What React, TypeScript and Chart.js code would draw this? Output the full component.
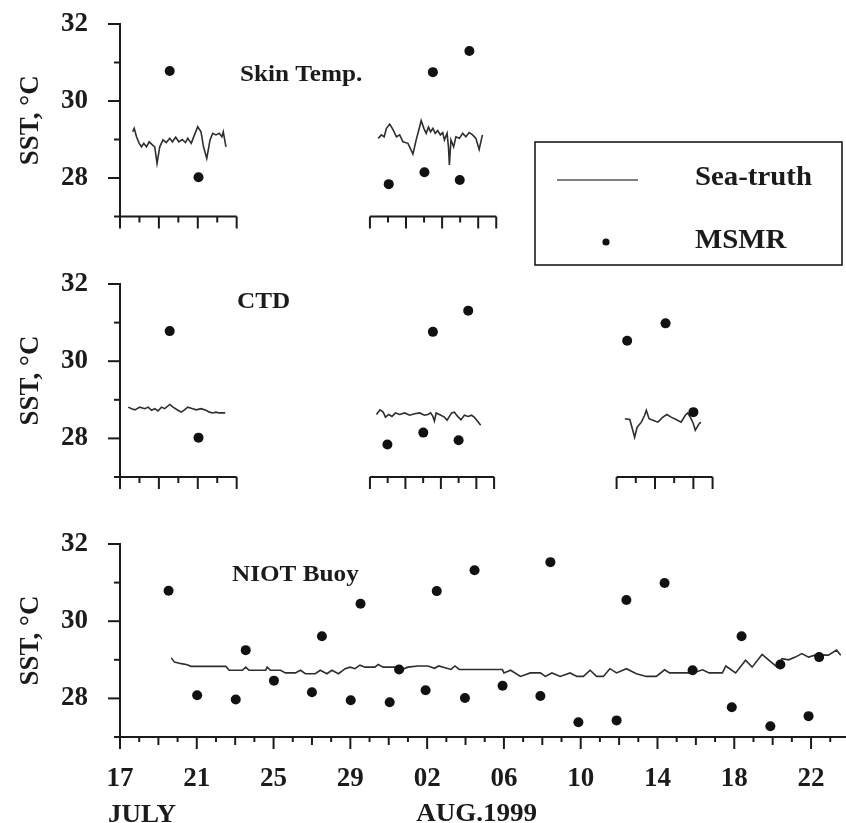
import React, { useEffect, useRef } from 'react';
import { Chart, registerables } from 'chart.js';

Chart.register(...registerables);

const FONT = "'Liberation Serif', 'Times New Roman', serif";
const INK = '#1b1b1b';
const LINE = '#2e2e2e';

// ---- axis text -------------------------------------------------------------
// x values are days counted from 17 July 1999
const dateTickDays = [0, 4, 8, 12, 16, 20, 24, 28, 32, 36];
const dateTickLabels = ['17', '21', '25', '29', '02', '06', '10', '14', '18', '22'];
const monthLabels = ['JULY', 'AUG.1999'];
const sstTickValues = [28, 30, 32];
const sstTickLabels = ['28', '30', '32'];
const sstAxisTitle = 'SST, °C';
const panelTitles = ['Skin Temp.', 'CTD', 'NIOT Buoy'];
const legendLabels = ['Sea-truth', 'MSMR'];

// ---- Skin temperature panel ---------------------------------------------------
const skinDaysA = [0.66, 0.74, 0.86, 1.0, 1.12, 1.24, 1.38, 1.52, 1.69, 1.81, 1.93, 2.07, 2.24, 2.41, 2.59, 2.73, 2.9, 3.07, 3.24, 3.41, 3.53, 3.71, 3.88, 4.05, 4.22, 4.35, 4.52, 4.69, 4.83, 5.0, 5.17, 5.31, 5.38, 5.52];
const skinSstA = [29.2, 29.29, 29.07, 28.9, 28.81, 28.9, 28.81, 28.94, 28.86, 28.81, 28.38, 28.81, 28.99, 28.92, 29.03, 28.94, 29.06, 28.94, 29.0, 28.92, 29.03, 28.9, 29.12, 29.33, 29.2, 28.81, 28.51, 28.99, 29.16, 29.12, 29.16, 29.07, 29.2, 28.81];
const skinDaysB = [13.45, 13.62, 13.76, 13.88, 14.05, 14.23, 14.4, 14.57, 14.74, 15.0, 15.26, 15.43, 15.61, 15.69, 15.83, 15.95, 16.07, 16.18, 16.3, 16.42, 16.55, 16.69, 16.81, 16.9, 17.04, 17.11, 17.16, 17.24, 17.38, 17.5, 17.68, 17.85, 18.02, 18.19, 18.37, 18.54, 18.71, 18.88];
const skinSstB = [29.03, 29.12, 29.07, 29.29, 29.4, 29.25, 29.07, 29.12, 28.94, 28.9, 28.62, 28.99, 29.33, 29.49, 29.29, 29.16, 29.32, 29.2, 29.29, 29.16, 29.23, 29.12, 29.18, 28.99, 29.16, 28.81, 28.34, 28.99, 28.81, 29.07, 29.03, 29.16, 29.07, 29.18, 29.12, 29.03, 28.74, 29.12];
const skinMsmrDays = [2.59, 4.09, 14.0, 15.86, 16.3, 17.7, 18.2];
const skinMsmrSst = [30.78, 28.02, 27.84, 28.15, 30.75, 27.95, 31.3];

// ---- CTD panel ------------------------------------------------------------------
const ctdDaysA = [0.43, 0.6, 0.78, 1.03, 1.29, 1.47, 1.64, 1.81, 1.98, 2.16, 2.33, 2.59, 2.76, 3.02, 3.19, 3.36, 3.53, 3.79, 3.97, 4.22, 4.48, 4.66, 4.83, 5.0, 5.17, 5.48];
const ctdSstA = [28.81, 28.77, 28.74, 28.81, 28.77, 28.81, 28.73, 28.77, 28.71, 28.81, 28.77, 28.88, 28.81, 28.73, 28.68, 28.74, 28.81, 28.77, 28.74, 28.77, 28.73, 28.68, 28.66, 28.68, 28.66, 28.66];
const ctdDaysB = [13.36, 13.54, 13.71, 13.83, 14.0, 14.17, 14.35, 14.57, 14.83, 15.09, 15.35, 15.61, 15.86, 16.04, 16.18, 16.3, 16.38, 16.47, 16.64, 16.9, 17.04, 17.16, 17.28, 17.42, 17.59, 17.76, 17.94, 18.14, 18.31, 18.45, 18.62, 18.79];
const ctdSstB = [28.62, 28.74, 28.68, 28.55, 28.62, 28.57, 28.66, 28.62, 28.66, 28.6, 28.64, 28.66, 28.6, 28.62, 28.66, 28.57, 28.45, 28.66, 28.62, 28.55, 28.47, 28.57, 28.66, 28.68, 28.57, 28.48, 28.6, 28.57, 28.6, 28.55, 28.45, 28.34];
const ctdDaysC = [26.3, 26.56, 26.69, 26.81, 26.94, 27.16, 27.33, 27.42, 27.56, 27.76, 28.02, 28.28, 28.49, 28.71, 28.97, 29.23, 29.45, 29.57, 29.75, 29.87, 29.97, 30.14, 30.26];
const ctdSstC = [28.51, 28.49, 28.25, 28.03, 28.29, 28.42, 28.6, 28.73, 28.51, 28.47, 28.42, 28.55, 28.62, 28.55, 28.49, 28.42, 28.6, 28.66, 28.51, 28.38, 28.21, 28.36, 28.42];
const ctdMsmrDays = [2.59, 4.09, 13.93, 15.8, 16.3, 17.64, 18.14, 26.42, 28.42, 29.87];
const ctdMsmrSst = [30.78, 28.02, 27.84, 28.15, 30.76, 27.95, 31.31, 30.53, 30.98, 28.68];

// ---- NIOT buoy panel ---------------------------------------------------------------
const buoyDays = [2.67, 2.84, 3.19, 3.45, 3.71, 5.52, 5.69, 6.38, 6.55, 6.72, 7.59, 7.67, 7.84, 8.36, 8.62, 9.14, 9.4, 9.66, 10.17, 10.43, 10.78, 11.04, 11.38, 11.73, 11.99, 12.24, 12.5, 12.76, 13.28, 13.45, 13.71, 14.31, 14.65, 15.0, 15.52, 16.04, 16.38, 16.6, 17.24, 17.45, 17.67, 19.92, 20.0, 20.35, 20.86, 21.38, 21.9, 22.16, 22.5, 22.93, 23.45, 23.8, 24.14, 24.49, 24.83, 25.18, 25.52, 25.87, 26.38, 26.9, 27.42, 27.94, 28.37, 28.63, 29.83, 30.35, 30.69, 31.38, 31.56, 32.07, 32.59, 32.93, 33.45, 33.8, 34.23, 34.49, 34.83, 35.18, 35.52, 35.87, 36.21, 36.9, 37.33, 37.55];
const buoySst = [29.05, 28.94, 28.9, 28.88, 28.83, 28.83, 28.73, 28.73, 28.81, 28.73, 28.73, 28.81, 28.73, 28.73, 28.66, 28.66, 28.73, 28.64, 28.64, 28.73, 28.64, 28.73, 28.64, 28.77, 28.81, 28.77, 28.86, 28.81, 28.81, 28.88, 28.81, 28.81, 28.74, 28.81, 28.84, 28.84, 28.78, 28.84, 28.75, 28.84, 28.75, 28.75, 28.66, 28.73, 28.57, 28.66, 28.66, 28.57, 28.66, 28.57, 28.66, 28.57, 28.57, 28.73, 28.57, 28.57, 28.77, 28.66, 28.77, 28.64, 28.57, 28.57, 28.74, 28.66, 28.66, 28.74, 28.66, 28.66, 28.84, 28.66, 28.99, 28.81, 29.14, 28.99, 28.81, 29.03, 29.0, 29.07, 29.16, 29.07, 29.12, 29.12, 29.25, 29.12];
const buoyMsmrDays = [2.53, 4.02, 6.03, 6.55, 8.02, 10.0, 10.52, 12.02, 12.53, 14.05, 14.54, 15.92, 16.5, 17.97, 18.47, 19.93, 21.9, 22.42, 23.88, 25.87, 26.38, 28.37, 29.83, 31.87, 32.38, 33.88, 34.4, 35.87, 36.42];
const buoyMsmrSst = [30.79, 28.08, 27.97, 29.25, 28.46, 28.16, 29.61, 27.95, 30.45, 27.9, 28.75, 28.21, 30.78, 28.01, 31.32, 28.33, 28.06, 31.53, 27.38, 27.43, 30.55, 30.99, 28.73, 27.77, 29.61, 27.28, 28.88, 27.54, 29.07];

const X_MAX = 37.56;
const Y_MIN = 27;
const Y_MAX = 32;

const toXY = (xs: number[], ys: number[]) => xs.map((x, i) => ({ x, y: ys[i] }));

function drawText(ctx: CanvasRenderingContext2D, text: string, x: number, y: number, size: number, align: CanvasTextAlign = 'left', sx = 1) {
  ctx.save();
  ctx.font = `bold ${size}px ${FONT}`;
  ctx.fillStyle = INK;
  ctx.textAlign = align;
  ctx.textBaseline = 'alphabetic';
  ctx.translate(x, y);
  ctx.scale(sx, 1);
  ctx.fillText(text, 0, 0);
  ctx.restore();
}

function seg(ctx: CanvasRenderingContext2D, x1: number, y1: number, x2: number, y2: number) {
  ctx.beginPath();
  ctx.moveTo(x1, y1);
  ctx.lineTo(x2, y2);
  ctx.stroke();
}

const figurePlugin = {
  id: 'figure',
  afterDraw(chart: any, _args: any, opts: any) {
    const { ctx, chartArea } = chart;
    const xs = chart.scales.x;
    const ys = chart.scales.y;
    ctx.save();
    ctx.strokeStyle = INK;
    ctx.lineWidth = 2;
    const x0 = chartArea.left;
    const yTop = ys.getPixelForValue(Y_MAX);
    const yBot = ys.getPixelForValue(Y_MIN);
    // y axis
    seg(ctx, x0, yBot + 1, x0, yTop - 1);
    for (let v = Y_MIN + 1; v <= Y_MAX; v++) {
      const py = ys.getPixelForValue(v);
      const len = v % 2 === 0 ? 12 : 6;
      seg(ctx, x0 - len, py, x0, py);
    }
    // x axis segments
    (opts.segments || []).forEach((s: any, si: number) => {
      const pa = xs.getPixelForValue(s.from);
      const pb = Math.min(xs.getPixelForValue(s.to), chart.width);
      seg(ctx, pa - (si === 0 ? 6 : 0), yBot, pb, yBot);
      const n = Math.round((s.to - s.from) / s.step);
      for (let k = 0; k <= n; k++) {
        const p = xs.getPixelForValue(s.from + k * s.step);
        if (p > chart.width) break;
        let len = 5;
        if (k % s.major === 0 || (s.endsTall && k === n)) len = 12;
        else if (s.mid && k % s.mid === 0) len = 8;
        else len = s.minorLen || 6;
        seg(ctx, p, yBot, p, yBot + len);
      }
    });
    // panel title
    if (opts.title) {
      drawText(ctx, opts.title, x0 + opts.titleDx, yTop + opts.titleDy, 24, 'left', 1.05);
    }
    // month labels
    if (opts.months) {
      drawText(ctx, monthLabels[0], xs.getPixelForValue(0) - 12, yBot + 85, 26, 'left', 1.04);
      drawText(ctx, monthLabels[1], xs.getPixelForValue(16) - 11, yBot + 84, 26, 'left', 1.04);
    }
    // legend box
    if (opts.legend) {
      const L = opts.legend;
      ctx.lineWidth = 1.6;
      ctx.strokeRect(L.left, L.top, L.right - L.left, L.bottom - L.top);
      ctx.strokeStyle = '#555';
      ctx.lineWidth = 1.4;
      seg(ctx, L.left + 22, L.top + 38, L.left + 103, L.top + 38);
      ctx.fillStyle = '#111';
      ctx.beginPath();
      ctx.arc(L.left + 71, L.top + 100, 3.6, 0, Math.PI * 2);
      ctx.fill();
      drawText(ctx, legendLabels[0], L.left + 160, L.top + 43, 28, 'left', 1.03);
      drawText(ctx, legendLabels[1], L.left + 160, L.top + 106, 28, 'left', 1.03);
    }
    ctx.restore();
  },
};

type Panel = {
  lines: { x: number; y: number }[][];
  points: { x: number; y: number }[];
  height: number;
  padBottom: number;
  showDates: boolean;
  figure: any;
};

function makeConfig(p: Panel): any {
  const tickFont = { family: FONT, size: 27, weight: 'bold' as const };
  const datasets: any[] = p.lines.map((d, i) => ({
    label: legendLabels[0] + ' ' + (i + 1),
    data: d,
    showLine: true,
    borderColor: LINE,
    borderWidth: 1.6,
    pointRadius: 0,
    tension: 0,
    order: 2,
  }));
  datasets.push({
    label: legendLabels[1],
    data: p.points,
    showLine: false,
    pointRadius: 5,
    pointBackgroundColor: '#111',
    pointBorderColor: '#111',
    pointBorderWidth: 0,
    order: 1,
    clip: false,
  });
  return {
    type: 'scatter',
    data: { datasets },
    options: {
      animation: false,
      responsive: false,
      maintainAspectRatio: false,
      events: [],
      layout: { padding: { left: 0, right: 0, top: 24, bottom: p.padBottom } },
      plugins: {
        legend: { display: false },
        tooltip: { enabled: false },
        figure: p.figure,
      },
      scales: {
        x: {
          type: 'linear',
          min: 0,
          max: X_MAX,
          display: p.showDates,
          position: 'bottom',
          grid: { display: false },
          border: { display: false },
          afterBuildTicks: (s: any) => {
            s.ticks = dateTickDays.map((v) => ({ value: v }));
          },
          afterFit: (s: any) => {
            s.height = p.showDates ? 86 : 0;
            s.paddingLeft = 0;
            s.paddingRight = 0;
          },
          ticks: {
            autoSkip: false,
            maxRotation: 0,
            padding: 18,
            color: INK,
            font: tickFont,
            callback: (_v: any, i: number) => dateTickLabels[i],
          },
        },
        y: {
          type: 'linear',
          min: Y_MIN,
          max: Y_MAX,
          position: 'left',
          grid: { display: false },
          border: { display: false },
          afterBuildTicks: (s: any) => {
            s.ticks = sstTickValues.map((v) => ({ value: v }));
          },
          afterFit: (s: any) => {
            s.width = 120;
            s.paddingTop = 0;
            s.paddingBottom = 0;
          },
          ticks: {
            padding: 24,
            color: INK,
            font: tickFont,
            callback: (_v: any, i: number) => sstTickLabels[i],
          },
          title: {
            display: true,
            text: sstAxisTitle,
            color: INK,
            font: { family: FONT, size: 27, weight: 'bold' },
            padding: { top: 15, bottom: 0 },
          },
        },
      },
    },
    plugins: [figurePlugin],
  };
}

const panels: Panel[] = [
  {
    lines: [toXY(skinDaysA, skinSstA), toXY(skinDaysB, skinSstB)],
    points: toXY(skinMsmrDays, skinMsmrSst),
    height: 280,
    padBottom: 63.5,
    showDates: false,
    figure: {
      title: panelTitles[0],
      titleDx: 120,
      titleDy: 57,
      segments: [
        { from: 0, to: 6.08, step: 1.013, major: 2, endsTall: true },
        { from: 13.02, to: 19.6, step: 0.94, major: 2, endsTall: true },
      ],
      legend: { left: 535, top: 142, right: 842, bottom: 265 },
    },
  },
  {
    lines: [toXY(ctdDaysA, ctdSstA), toXY(ctdDaysB, ctdSstB), toXY(ctdDaysC, ctdSstC)],
    points: toXY(ctdMsmrDays, ctdMsmrSst),
    height: 260,
    padBottom: 43,
    showDates: false,
    figure: {
      title: panelTitles[1],
      titleDx: 117,
      titleDy: 24,
      segments: [
        { from: 0, to: 6.08, step: 1.013, major: 2, endsTall: true },
        { from: 13.02, to: 19.49, step: 0.924, major: 2, endsTall: true },
        { from: 25.87, to: 30.87, step: 1, major: 2, endsTall: true },
      ],
    },
  },
  {
    lines: [toXY(buoyDays, buoySst)],
    points: toXY(buoyMsmrDays, buoyMsmrSst),
    height: 303,
    padBottom: 0,
    showDates: true,
    figure: {
      title: panelTitles[2],
      titleDx: 112,
      titleDy: 37,
      months: true,
      segments: [{ from: 0, to: 38, step: 1, major: 4, mid: 2, minorLen: 5 }],
    },
  },
];

const panelTops = [0, 260, 520];

function PanelChart({ panel, top }: { panel: Panel; top: number }) {
  const ref = useRef<HTMLCanvasElement | null>(null);
  useEffect(() => {
    if (!ref.current) return;
    const chart = new Chart(ref.current, makeConfig(panel));
    return () => chart.destroy();
  }, [panel]);
  return (
    <canvas
      ref={ref}
      width={846}
      height={panel.height}
      style={{ position: 'absolute', left: 0, top, width: 846, height: panel.height }}
    />
  );
}

export default function App() {
  return (
    <div style={{ position: 'absolute', left: 0, top: 0, width: 846, height: 823, background: '#fff', overflow: 'hidden' }}>
      {panels.map((p, i) => (
        <PanelChart key={i} panel={p} top={panelTops[i]} />
      ))}
    </div>
  );
}
